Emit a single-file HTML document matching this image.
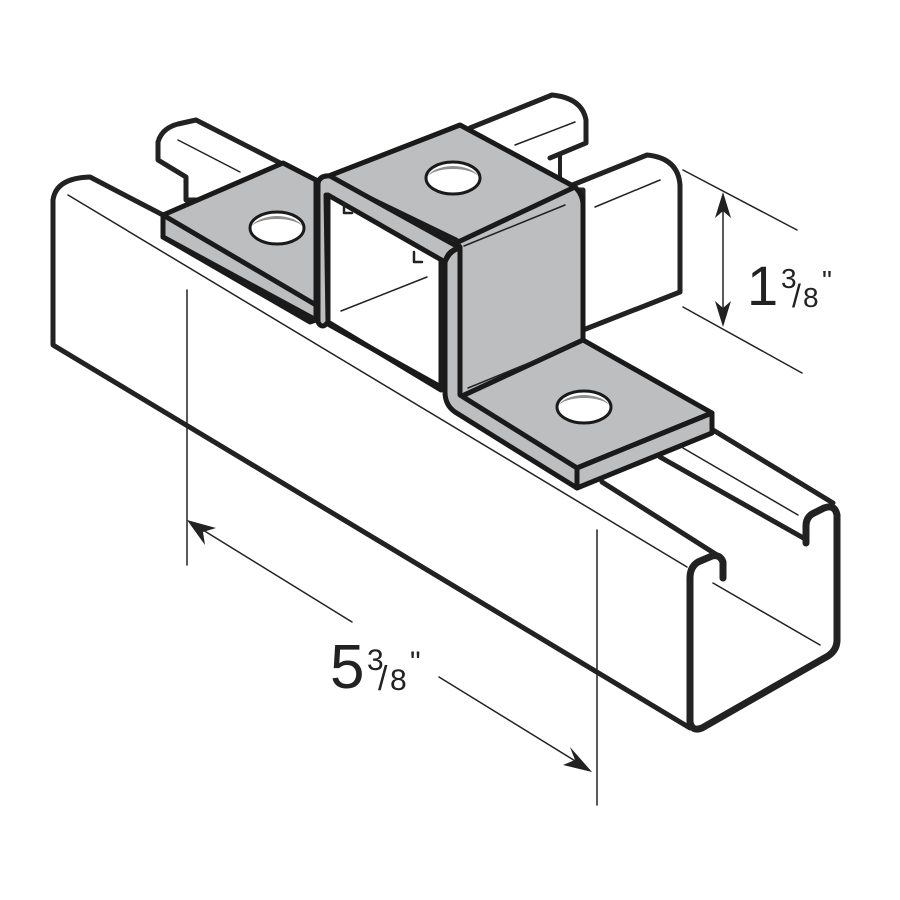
<!DOCTYPE html>
<html><head><meta charset="utf-8"><style>html,body{margin:0;padding:0;background:#fff}svg{display:block}</style></head>
<body>
<svg width="900" height="900" viewBox="0 0 900 900" xmlns="http://www.w3.org/2000/svg" stroke-linejoin="round" stroke-linecap="round">
<rect width="900" height="900" fill="#fff"/>
<!-- back channel left lobe -->
<path d="M158,160 L158,142 Q162,128 178,124 L196,120 L290,168 L290,200 L186,200 L186,177 Z" fill="#fff" stroke="#222" stroke-width="5"/>
<line x1="178" y1="140" x2="240" y2="172" stroke="#222" stroke-width="1.5"/>
<!-- back channel right top lobe -->
<path d="M470,128 L552,95 Q582,98 586,120 L586,143 L540,162 L470,162 Z" fill="#fff" stroke="none"/>
<path d="M470,128 L552,95 Q582,98 586,120 L586,143 L550,158" fill="none" stroke="#222" stroke-width="5"/>
<line x1="560" y1="154" x2="560" y2="180" stroke="#222" stroke-width="4"/>
<line x1="515" y1="145" x2="575" y2="122" stroke="#222" stroke-width="1.5"/>
<!-- back channel right end lobe -->
<path d="M560,190 L647,155 Q678,158 680,185 L680,292 L583,330 L583,190 Z" fill="#fff" stroke="#222" stroke-width="5"/>
<line x1="595" y1="207" x2="660" y2="180" stroke="#222" stroke-width="1.5"/>
<!-- main channel -->
<path d="M690,570 L690,728 L53,345 L53,200 Q55,180 90,177 L713,430 L837,505 L837,647 Z" fill="#fff"/>
<path d="M690,728 L53,345 L53,200 Q56,178 90,177 L163,215" fill="none" stroke="#222" stroke-width="5"/>
<line x1="68" y1="195" x2="687" y2="567" stroke="#222" stroke-width="1.5"/>
<line x1="602" y1="482" x2="717" y2="555" stroke="#222" stroke-width="5"/>
<line x1="660" y1="457" x2="807" y2="540" stroke="#222" stroke-width="5"/>
<line x1="683" y1="448" x2="798" y2="515" stroke="#222" stroke-width="1.5"/>
<line x1="713" y1="430" x2="833" y2="503" stroke="#222" stroke-width="5"/>
<!-- C profile end -->
<path d="M723,578 L723,562 Q720,554 712,556 L698,562 Q690,567 690,578 L690,722 Q692,732 702,728 L828,656 Q837,650 837,640 L837,515 Q835,504 824,508 L812,514 Q806,518 806,526 L806,543" fill="none" stroke="#222" stroke-width="7"/>
<line x1="713" y1="583" x2="820" y2="645" stroke="#222" stroke-width="1.5"/>
<!-- bracket -->
<g fill="#bdbec0" stroke="#1a1a1a" stroke-width="5">
<path d="M163,215 L283,163 L316,180 L316,320 L310,322 L163,237 Z"/>
<path d="M163,215 L316,305 L316,320 L163,237 Z"/>
<path d="M326,190 L441,253 L441,387 L326,323 Z" fill="#fff"/>
<path d="M326,177 L460,125 L575,187 L460,243 L456,240 Z"/>
<path d="M456,243 L575,187 Q583,195 583,205 L583,340 L460,397 L460,247 Z"/>
<path d="M460,397 L583,340 L712,413 L577,468 Z"/>
<path d="M577,468 L712,413 L712,433 L577,488 Z"/>
<path d="M445,262 Q450,250 460,248 L460,395 L577,468 L577,488 L455,412 Q445,405 445,392 Z"/>
<path d="M318,183 Q320,175 330,176 L460,248 Q448,250 445,262 L328,195 L328,322 Q322,330 318,322 Z"/>
</g>
<path d="M326,195 L328,322 L441,390" fill="none" stroke="#1a1a1a" stroke-width="5"/>
<line x1="341" y1="311" x2="427" y2="277" stroke="#222" stroke-width="1.5"/>
<path d="M344,203 L344,213 L352,213 M414,252 L414,262 L422,262" fill="none" stroke="#222" stroke-width="2.5"/>
<line x1="464" y1="246" x2="565" y2="205" stroke="#222" stroke-width="1.5"/>
<line x1="468" y1="388" x2="573" y2="345" stroke="#222" stroke-width="1.5"/>
<!-- holes -->
<g fill="#fff" stroke="#1a1a1a" stroke-width="3">
<ellipse cx="453" cy="178" rx="27" ry="16"/>
<ellipse cx="277" cy="228" rx="27" ry="16"/>
<ellipse cx="584" cy="407" rx="27" ry="16"/>
</g>
<g fill="#8f8f8f"><path d="M427,177 A27,15 0 0 1 479,177 A27,11 0 0 0 427,177Z"/><path d="M251,227 A27,15 0 0 1 303,227 A27,11 0 0 0 251,227Z"/><path d="M558,406 A27,15 0 0 1 610,406 A27,11 0 0 0 558,406Z"/></g>
<!-- dimensions -->
<g stroke="#222" stroke-width="1.5">
<line x1="187" y1="290" x2="187" y2="565"/>
<line x1="597" y1="530" x2="597" y2="805"/>
<line x1="190" y1="522" x2="352" y2="622"/>
<line x1="439" y1="677" x2="585" y2="767"/>
<line x1="683" y1="170" x2="797" y2="230"/>
<line x1="683" y1="307" x2="802" y2="373"/>
<line x1="723" y1="200" x2="723" y2="320"/>
</g>
<g fill="#222">
<path d="M187,520 L216,528 L203,532 L205,545 Z"/>
<path d="M592,772 L563,765 L575,760 L570,747 Z"/>
<path d="M723,192 L715,218 L723,211 L731,218 Z"/>
<path d="M723,327 L715,301 L723,308 L731,301 Z"/>
</g>
<g font-family="Liberation Sans, sans-serif" fill="#222">
<text x="330" y="688" font-size="62">5</text>
<text x="367" y="670" font-size="30">3</text>
<text x="378" y="690" font-size="34">/</text>
<text x="390" y="690" font-size="30">8</text>
<text x="410" y="672" font-size="30">"</text>
<text x="747" y="305" font-size="56">1</text>
<text x="781" y="288" font-size="28">3</text>
<text x="792" y="307" font-size="32">/</text>
<text x="803" y="307" font-size="28">8</text>
<text x="822" y="290" font-size="28">"</text>
</g>
</svg>
</body></html>
